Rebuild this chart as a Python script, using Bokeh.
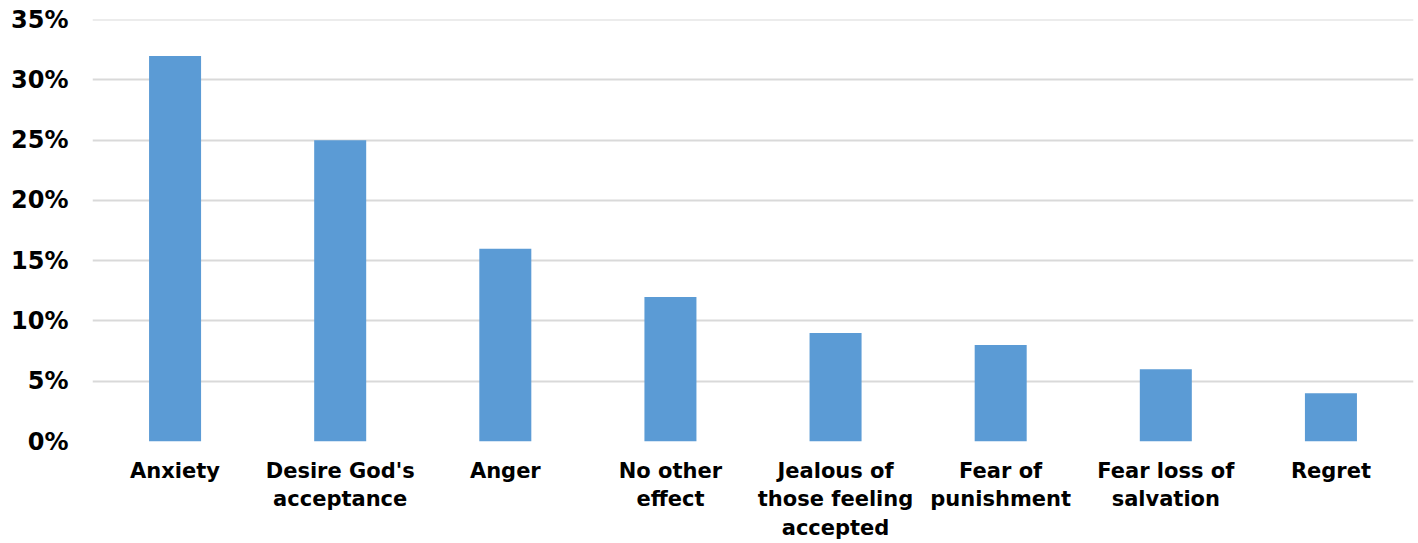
from bokeh.plotting import figure
from bokeh.models import Range1d, FactorRange, NumeralTickFormatter, FixedTicker
from bokeh.embed import file_html
from bokeh.resources import INLINE

categories = ["Anxiety", "Desire God's\nacceptance", "Anger", "No other\neffect",
              "Jealous of\nthose feeling\naccepted", "Fear of\npunishment",
              "Fear loss of\nsalvation", "Regret"]
values = [0.32, 0.25, 0.16, 0.12, 0.09, 0.08, 0.06, 0.04]
y_ticks = [0, 0.05, 0.10, 0.15, 0.20, 0.25, 0.30, 0.35]

FONT = "DejaVu Sans"

p = figure(width=1418, height=543, output_backend="svg", toolbar_location=None,
           x_range=FactorRange(*categories, range_padding=0),
           y_range=Range1d(0, 0.3502),
           min_border_left=92, min_border_right=5, min_border_top=19, min_border_bottom=0)

p.vbar(x=categories, top=values, width=0.315, color="#5B9BD5", line_color=None)

p.outline_line_color = None
p.xgrid.grid_line_color = None
p.ygrid.grid_line_color = "#D9D9D9"
p.ygrid.grid_line_width = 2

p.yaxis.ticker = FixedTicker(ticks=y_ticks)
p.yaxis.formatter = NumeralTickFormatter(format="0%")
for ax in (p.xaxis[0], p.yaxis[0]):
    ax.axis_line_color = None
    ax.major_tick_line_color = None
    ax.minor_tick_line_color = None
    ax.major_tick_out = 0
    ax.major_tick_in = 0
    ax.minor_tick_out = 0
    ax.minor_tick_in = 0
    ax.major_label_text_font = FONT
    ax.major_label_text_font_style = "bold"
    ax.major_label_text_color = "#000000"

p.yaxis.major_label_text_font_size = "24px"
p.xaxis.major_label_text_font_size = "21px"
p.yaxis.major_label_standoff = 24
p.xaxis.major_label_standoff = 17
p.xaxis.major_label_text_line_height = 1.2

open("out.html", "w").write(file_html(p, INLINE))
